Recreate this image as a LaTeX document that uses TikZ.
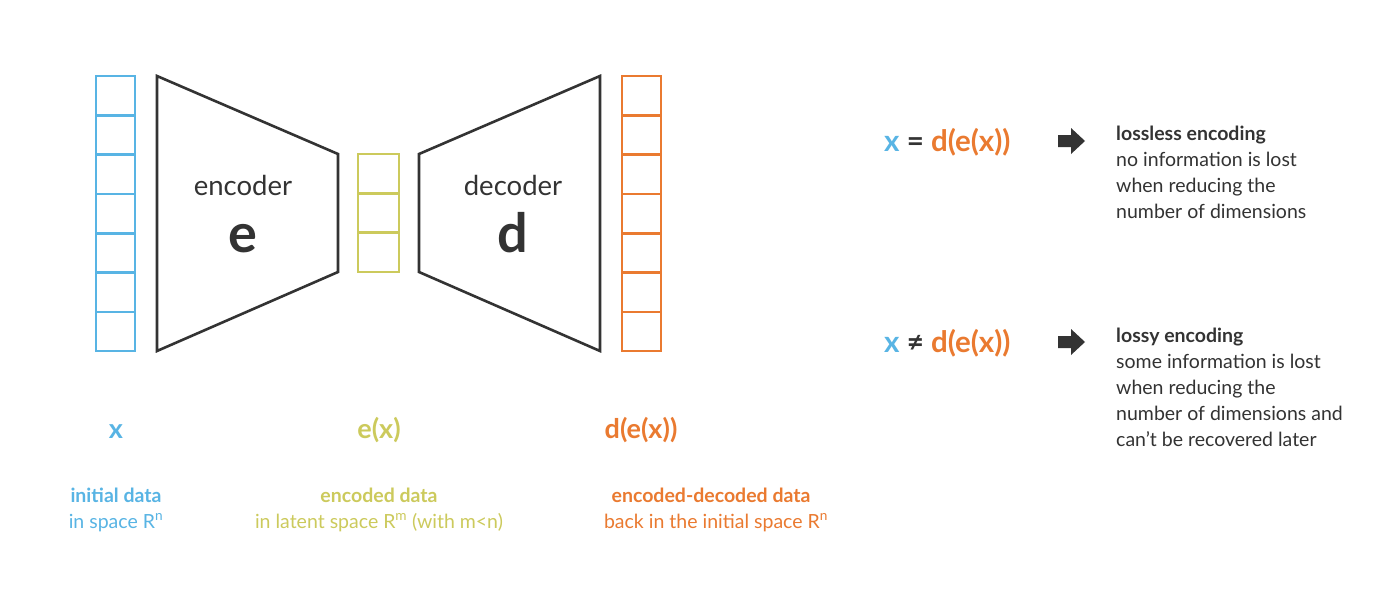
\documentclass[tikz,border=0pt]{standalone}
\usepackage{fontspec}
\setmainfont{Lato}
\definecolor{cblue}{RGB}{88,180,228}
\definecolor{cyel}{RGB}{204,202,92}
\definecolor{corg}{RGB}{234,122,48}
\definecolor{cdark}{RGB}{51,51,51}
\begin{document}
\begin{tikzpicture}[x=1pt,y=-1pt,
  cell/.style={line width=2.6pt},
  trap/.style={draw=cdark,line width=2.6pt,line join=miter},
  lbl/.style={inner sep=0pt,anchor=base},
  desc/.style={inner sep=0pt,align=left,anchor=north west,font=\fontsize{19.5}{26}\selectfont,text=cdark}]
\useasboundingbox[fill=white] (0,0) rectangle (1400,589);
% columns
\foreach \i in {0,...,6} {\draw[cell,cblue] (96,{76+\i*39.3}) rectangle (135,{76+(\i+1)*39.3});}
\foreach \i in {0,...,2} {\draw[cell,cyel] (358,{154+\i*39.3}) rectangle (399,{154+(\i+1)*39.3});}
\foreach \i in {0,...,6} {\draw[cell,corg] (622,{76+\i*39.3}) rectangle (661,{76+(\i+1)*39.3});}
% trapezoids
\draw[trap] (157,76) -- (338,154) -- (338,272) -- (157,351) -- cycle;
\draw[trap] (600,76) -- (419,154) -- (419,272) -- (600,351) -- cycle;
\node[lbl,text=cdark,font=\fontsize{27.5}{30}\selectfont] (enc) at (243,195) {encoder};
\node[lbl,text=cdark,font=\fontsize{54}{56}\selectfont\bfseries] (e) at (243,252) {e};
\node[lbl,text=cdark,font=\fontsize{27.5}{30}\selectfont] (dec) at (513,195) {decoder};
\node[lbl,text=cdark,font=\fontsize{54}{56}\selectfont\bfseries] (d) at (513,252) {d};
% bottom labels
\node[lbl,text=cblue,font=\fontsize{27}{30}\selectfont\bfseries] (lx) at (116,438) {x};
\node[lbl,text=cyel,font=\fontsize{27}{30}\selectfont\bfseries] (lex) at (379,438) {e(x)};
\node[lbl,text=corg,font=\fontsize{27}{30}\selectfont\bfseries] (ldex) at (641,438) {d(e(x))};
\node[lbl,text=cblue,font=\fontsize{19.5}{22}\selectfont\bfseries] (t1) at (116,502) {initial data};
\node[lbl,text=cblue,font=\fontsize{19.5}{22}\selectfont] (t1b) at (116,528) {in space R\textsuperscript{n}};
\node[lbl,text=cyel,font=\fontsize{19.5}{22}\selectfont\bfseries] (t2) at (379,502) {encoded data};
\node[lbl,text=cyel,font=\fontsize{19.5}{22}\selectfont] (t2b) at (379,528) {in latent space R\textsuperscript{m} (with m<n)};
\node[lbl,text=corg,font=\fontsize{19.5}{22}\selectfont\bfseries] (t3) at (711,502) {encoded-decoded data};
\node[lbl,text=corg,font=\fontsize{19.5}{22}\selectfont] (t3b) at (716,528) {back in the initial space R\textsuperscript{n}};
% right side
\node[inner sep=0pt,anchor=base west,font=\fontsize{29.5}{32}\selectfont\bfseries] (eq1) at (884,151)
  {\textcolor{cblue}{x} \textcolor{cdark}{=} \textcolor{corg}{d(e(x))}};
\node[inner sep=0pt,anchor=base west,font=\fontsize{29.5}{32}\selectfont\bfseries] (eq2) at (884,352)
  {\textcolor{cblue}{x} \textcolor{cdark}{≠} \textcolor{corg}{d(e(x))}};
\foreach \yy in {141,342} {
  \fill[cdark] (1058,\yy-6) -- (1071,\yy-6) -- (1071,\yy-13) -- (1085,\yy) -- (1071,\yy+13) -- (1071,\yy+6) -- (1058,\yy+6) -- cycle;}
\node[desc] (r1) at (1116,126) {\textbf{lossless encoding}\\no information is lost\\when reducing the\\number of dimensions};
\node[desc] (r2) at (1116,328) {\textbf{lossy encoding}\\some information is lost\\when reducing the\\number of dimensions and\\can’t be recovered later};
\end{tikzpicture}
\end{document}
